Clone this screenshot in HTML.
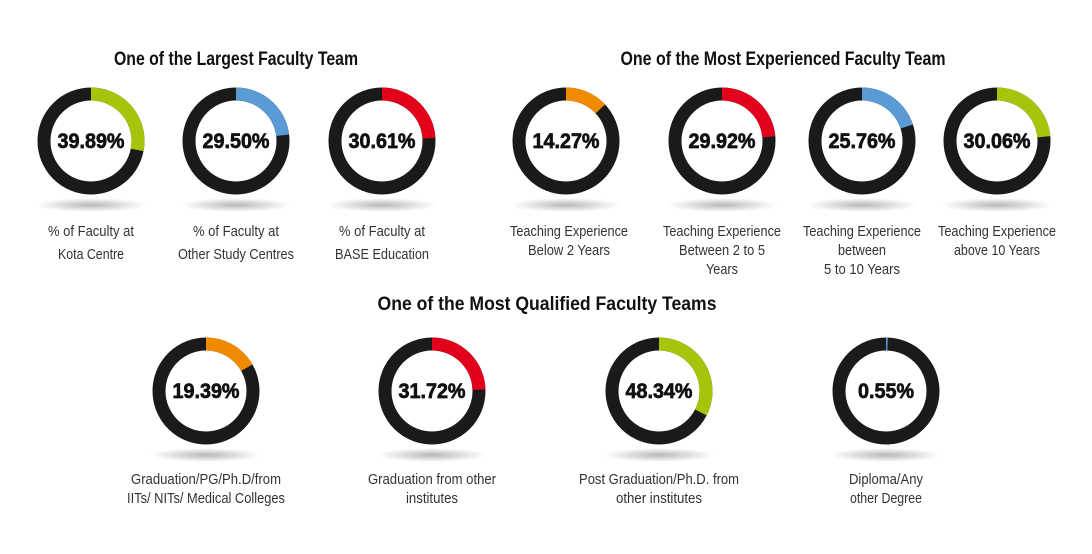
<!DOCTYPE html><html><head><style>body{margin:0;background:#fff}svg{display:block}</style></head><body>
<svg width="1092" height="554" viewBox="0 0 1092 554" xmlns="http://www.w3.org/2000/svg">
<defs><radialGradient id="sh"><stop offset="0" stop-color="#000" stop-opacity="0.28"/><stop offset="1" stop-color="#000" stop-opacity="0"/></radialGradient></defs>
<g font-family="'Liberation Sans Narrow','Liberation Sans',sans-serif" text-anchor="middle">
<g font-weight="bold" font-size="19" fill="#111">
<text x="236" y="65" textLength="244" lengthAdjust="spacingAndGlyphs">One of the Largest Faculty Team</text>
<text x="783" y="65" textLength="325" lengthAdjust="spacingAndGlyphs">One of the Most Experienced Faculty Team</text>
<text x="547" y="310" textLength="339" lengthAdjust="spacingAndGlyphs">One of the Most Qualified Faculty Teams</text>
</g>
<g fill="none" stroke-width="13">
<ellipse cx="91" cy="205" rx="55" ry="7" fill="url(#sh)" stroke="none"/>
<circle cx="91" cy="141" r="47" stroke="#1a1a1a"/><circle cx="91" cy="141" r="47" stroke="#a8c40a" stroke-dasharray="82.7 400" transform="rotate(-90 91 141)"/>
<ellipse cx="236" cy="205" rx="55" ry="7" fill="url(#sh)" stroke="none"/>
<circle cx="236" cy="141" r="47" stroke="#1a1a1a"/><circle cx="236" cy="141" r="47" stroke="#5a9bd5" stroke-dasharray="67.9 400" transform="rotate(-90 236 141)"/>
<ellipse cx="382" cy="205" rx="55" ry="7" fill="url(#sh)" stroke="none"/>
<circle cx="382" cy="141" r="47" stroke="#1a1a1a"/><circle cx="382" cy="141" r="47" stroke="#e3001b" stroke-dasharray="70.9 400" transform="rotate(-90 382 141)"/>
<ellipse cx="566" cy="205" rx="55" ry="7" fill="url(#sh)" stroke="none"/>
<circle cx="566" cy="141" r="47" stroke="#1a1a1a"/><circle cx="566" cy="141" r="47" stroke="#f08a00" stroke-dasharray="38.4 400" transform="rotate(-90 566 141)"/>
<ellipse cx="722" cy="205" rx="55" ry="7" fill="url(#sh)" stroke="none"/>
<circle cx="722" cy="141" r="47" stroke="#1a1a1a"/><circle cx="722" cy="141" r="47" stroke="#e3001b" stroke-dasharray="69.4 400" transform="rotate(-90 722 141)"/>
<ellipse cx="862" cy="205" rx="55" ry="7" fill="url(#sh)" stroke="none"/>
<circle cx="862" cy="141" r="47" stroke="#1a1a1a"/><circle cx="862" cy="141" r="47" stroke="#5a9bd5" stroke-dasharray="59 400" transform="rotate(-90 862 141)"/>
<ellipse cx="997" cy="205" rx="55" ry="7" fill="url(#sh)" stroke="none"/>
<circle cx="997" cy="141" r="47" stroke="#1a1a1a"/><circle cx="997" cy="141" r="47" stroke="#a8c40a" stroke-dasharray="69.4 400" transform="rotate(-90 997 141)"/>
<ellipse cx="206" cy="455" rx="55" ry="7" fill="url(#sh)" stroke="none"/>
<circle cx="206" cy="391" r="47" stroke="#1a1a1a"/><circle cx="206" cy="391" r="47" stroke="#f08a00" stroke-dasharray="49.3 400" transform="rotate(-90 206 391)"/>
<ellipse cx="432" cy="455" rx="55" ry="7" fill="url(#sh)" stroke="none"/>
<circle cx="432" cy="391" r="47" stroke="#1a1a1a"/><circle cx="432" cy="391" r="47" stroke="#e3001b" stroke-dasharray="72.3 400" transform="rotate(-90 432 391)"/>
<ellipse cx="659" cy="455" rx="55" ry="7" fill="url(#sh)" stroke="none"/>
<circle cx="659" cy="391" r="47" stroke="#1a1a1a"/><circle cx="659" cy="391" r="47" stroke="#a8c40a" stroke-dasharray="96 400" transform="rotate(-90 659 391)"/>
<ellipse cx="886" cy="455" rx="55" ry="7" fill="url(#sh)" stroke="none"/>
<circle cx="886" cy="391" r="47" stroke="#1a1a1a"/><circle cx="886" cy="391" r="47" stroke="#5a9bd5" stroke-dasharray="1.6 400" transform="rotate(-90 886 391)"/>
</g>
<g font-weight="bold" font-size="21" fill="#111" stroke="#111" stroke-width="0.7">
<text x="91" y="148" textLength="67" lengthAdjust="spacingAndGlyphs">39.89%</text>
<text x="236" y="148" textLength="67" lengthAdjust="spacingAndGlyphs">29.50%</text>
<text x="382" y="148" textLength="67" lengthAdjust="spacingAndGlyphs">30.61%</text>
<text x="566" y="148" textLength="67" lengthAdjust="spacingAndGlyphs">14.27%</text>
<text x="722" y="148" textLength="67" lengthAdjust="spacingAndGlyphs">29.92%</text>
<text x="862" y="148" textLength="67" lengthAdjust="spacingAndGlyphs">25.76%</text>
<text x="997" y="148" textLength="67" lengthAdjust="spacingAndGlyphs">30.06%</text>
<text x="206" y="398" textLength="67" lengthAdjust="spacingAndGlyphs">19.39%</text>
<text x="432" y="398" textLength="67" lengthAdjust="spacingAndGlyphs">31.72%</text>
<text x="659" y="398" textLength="67" lengthAdjust="spacingAndGlyphs">48.34%</text>
<text x="886" y="398" textLength="56" lengthAdjust="spacingAndGlyphs">0.55%</text>
</g>
<g font-size="15" fill="#333">
<text x="91" y="236" textLength="86" lengthAdjust="spacingAndGlyphs">% of Faculty at</text>
<text x="91" y="259" textLength="66" lengthAdjust="spacingAndGlyphs">Kota Centre</text>
<text x="236" y="236" textLength="86" lengthAdjust="spacingAndGlyphs">% of Faculty at</text>
<text x="236" y="259" textLength="116" lengthAdjust="spacingAndGlyphs">Other Study Centres</text>
<text x="382" y="236" textLength="86" lengthAdjust="spacingAndGlyphs">% of Faculty at</text>
<text x="382" y="259" textLength="94" lengthAdjust="spacingAndGlyphs">BASE Education</text>
<text x="569" y="236" textLength="118" lengthAdjust="spacingAndGlyphs">Teaching Experience</text>
<text x="569" y="255" textLength="82" lengthAdjust="spacingAndGlyphs">Below 2 Years</text>
<text x="722" y="236" textLength="118" lengthAdjust="spacingAndGlyphs">Teaching Experience</text>
<text x="722" y="255" textLength="86" lengthAdjust="spacingAndGlyphs">Between 2 to 5</text>
<text x="722" y="274" textLength="32" lengthAdjust="spacingAndGlyphs">Years</text>
<text x="862" y="236" textLength="118" lengthAdjust="spacingAndGlyphs">Teaching Experience</text>
<text x="862" y="255" textLength="48" lengthAdjust="spacingAndGlyphs">between</text>
<text x="862" y="274" textLength="76" lengthAdjust="spacingAndGlyphs">5 to 10 Years</text>
<text x="997" y="236" textLength="118" lengthAdjust="spacingAndGlyphs">Teaching Experience</text>
<text x="997" y="255" textLength="86" lengthAdjust="spacingAndGlyphs">above 10 Years</text>
<text x="206" y="484" textLength="150" lengthAdjust="spacingAndGlyphs">Graduation/PG/Ph.D/from</text>
<text x="206" y="503" textLength="158" lengthAdjust="spacingAndGlyphs">IITs/ NITs/ Medical Colleges</text>
<text x="432" y="484" textLength="128" lengthAdjust="spacingAndGlyphs">Graduation from other</text>
<text x="432" y="503" textLength="52" lengthAdjust="spacingAndGlyphs">institutes</text>
<text x="659" y="484" textLength="160" lengthAdjust="spacingAndGlyphs">Post Graduation/Ph.D. from</text>
<text x="659" y="503" textLength="86" lengthAdjust="spacingAndGlyphs">other institutes</text>
<text x="886" y="484" textLength="74" lengthAdjust="spacingAndGlyphs">Diploma/Any</text>
<text x="886" y="503" textLength="72" lengthAdjust="spacingAndGlyphs">other Degree</text>
</g>
</g>
</svg>
</body></html>
